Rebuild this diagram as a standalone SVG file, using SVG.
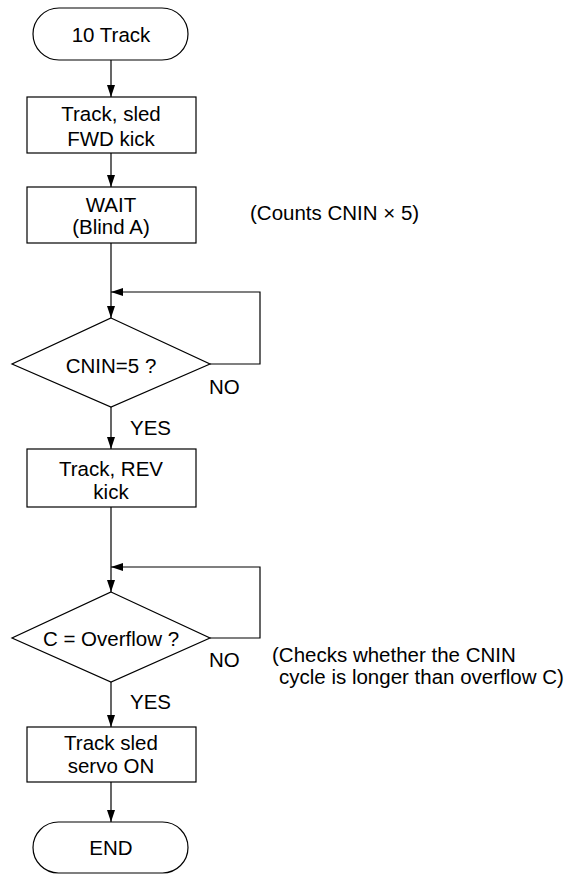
<svg xmlns="http://www.w3.org/2000/svg" width="579" height="875" viewBox="0 0 579 875">
<style>
.s{fill:#fff;stroke:#000;stroke-width:1.2}
.l{fill:none;stroke:#000;stroke-width:1.2}
text{font-family:"Liberation Sans",Arial,sans-serif;font-size:20.5px;fill:#000}
.c{text-anchor:middle}
</style>
<defs>
<marker id="a" viewBox="0 0 12 8" refX="12" refY="4" markerWidth="12" markerHeight="8" markerUnits="userSpaceOnUse" orient="auto">
<path d="M0,0L12,4L0,8Z" fill="#000"/>
</marker>
</defs>
<g id="connectors">
<path class="l" d="M111,60V97" marker-end="url(#a)"/>
<path class="l" d="M111,153V187" marker-end="url(#a)"/>
<path class="l" d="M111,243V318" marker-end="url(#a)"/>
<path class="l" d="M210,364H260V292H111" marker-end="url(#a)"/>
<path class="l" d="M111,407V449" marker-end="url(#a)"/>
<path class="l" d="M111,507V592" marker-end="url(#a)"/>
<path class="l" d="M210,638H260V567H111" marker-end="url(#a)"/>
<path class="l" d="M111,682V727" marker-end="url(#a)"/>
<path class="l" d="M111,782V822" marker-end="url(#a)"/>
</g>
<g id="start">
<rect class="s" x="33" y="8" width="155" height="52" rx="26"/>
<text class="c" x="111" y="42">10 Track</text>
</g>
<g id="fwdkick">
<rect class="s" x="27" y="97" width="169" height="56"/>
<text class="c" x="111" y="121">Track, sled</text>
<text class="c" x="111" y="146">FWD kick</text>
</g>
<g id="wait">
<rect class="s" x="27" y="187" width="169" height="56"/>
<text class="c" x="111" y="212">WAIT</text>
<text class="c" x="111" y="234">(Blind A)</text>
</g>
<g id="cnin">
<path class="s" d="M111,318L210,364L111,407L12,364Z"/>
<text class="c" x="111" y="373">CNIN=5 ?</text>
</g>
<g id="revkick">
<rect class="s" x="27" y="449" width="169" height="58"/>
<text class="c" x="111" y="476">Track, REV</text>
<text class="c" x="111" y="499">kick</text>
</g>
<g id="overflow">
<path class="s" d="M111,592L210,638L111,682L12,638Z"/>
<text class="c" x="111" y="646">C = Overflow ?</text>
</g>
<g id="servo">
<rect class="s" x="27" y="727" width="169" height="55"/>
<text class="c" x="111" y="750">Track sled</text>
<text class="c" x="111" y="773">servo ON</text>
</g>
<g id="end">
<rect class="s" x="33" y="822" width="155" height="51" rx="25.5"/>
<text class="c" x="111" y="855">END</text>
</g>
<g id="labels">
<text x="209" y="394">NO</text>
<text x="130" y="435">YES</text>
<text x="209" y="667">NO</text>
<text x="130" y="709">YES</text>
<text x="250" y="220">(Counts CNIN × 5)</text>
<text x="272" y="662">(Checks whether the CNIN</text>
<text x="279" y="684">cycle is longer than overflow C)</text>
</g>
</svg>
